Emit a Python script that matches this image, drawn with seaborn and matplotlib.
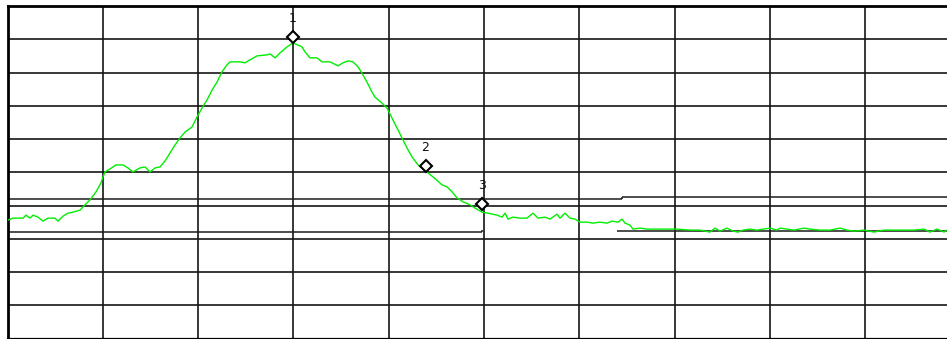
import matplotlib
matplotlib.use("Agg")
import matplotlib.pyplot as plt
import seaborn as sns
import pandas as pd

# ---- data (frequency in MHz, level in dBm) ----
freq = [0.05, 0.58, 1.63, 1.94, 2.36, 2.68, 3.20, 3.73, 4.25, 4.98, 5.30, 5.82, 6.35, 6.87, 7.61, 8.13,
        8.66, 9.29, 9.81, 10.02, 10.23, 10.76, 11.38, 12.12, 12.64, 13.17, 13.90, 14.43, 14.95, 15.48,
        16.00, 16.53, 17.05, 17.58, 18.10, 18.63, 19.36, 19.88, 20.41, 20.93, 21.46, 21.98, 22.51,
        23.03, 23.35, 24.40, 24.92, 25.45, 26.18, 27.23, 27.55, 28.07, 28.60, 29.33, 29.96, 30.90,
        31.22, 31.74, 32.48, 33.00, 33.84, 34.68, 35.20, 35.73, 36.25, 36.78, 37.20, 37.72, 38.25,
        38.56, 39.30, 39.82, 40.35, 40.87, 41.40, 41.92, 42.45, 43.08, 43.60, 44.65, 45.60, 46.12,
        46.65, 47.17, 47.80, 48.53, 49.06, 49.79, 50.42, 51.37, 51.89, 52.21, 52.52, 53.04, 53.78,
        54.51, 55.14, 55.67, 56.40, 56.93, 57.66, 57.97, 58.50, 59.02, 59.55, 60.07, 60.81, 61.44,
        62.17, 62.91, 63.43, 64.06, 64.48, 64.80, 65.32, 65.63, 66.37, 67.10, 68.15, 69.20, 70.25,
        71.61, 72.66, 73.71, 74.24, 74.76, 75.50, 76.13, 76.65, 77.18, 77.91, 78.65, 79.28, 80.01,
        80.75, 81.06, 81.80, 82.53, 83.58, 84.21, 85.26, 86.31, 87.36, 88.09, 88.82, 89.87, 90.92,
        91.97, 93.02, 94.07, 95.12, 96.17, 96.80, 97.53, 98.27, 98.58]
level = [-64.4, -63.8, -63.8, -62.9, -63.8, -62.9, -63.5, -64.7, -63.8, -63.8, -64.7, -63.2, -62.3,
         -62.0, -61.4, -59.8, -58.3, -55.9, -53.2, -51.4, -49.9, -49.0, -47.8, -47.8, -48.7, -49.9,
         -48.7, -48.4, -49.9, -48.7, -48.4, -46.6, -44.2, -41.8, -39.7, -37.9, -36.4, -33.4, -30.7,
         -28.3, -25.3, -22.9, -19.8, -17.7, -16.8, -16.8, -17.1, -16.2, -15.0, -14.7, -14.4, -15.6,
         -14.1, -12.3, -11.1, -12.3, -13.8, -15.6, -15.6, -16.8, -16.8, -18.0, -17.1, -16.5, -16.8,
         -18.3, -20.2, -22.9, -25.9, -27.4, -29.2, -30.7, -33.7, -36.7, -39.7, -42.7, -45.4, -47.8,
         -49.0, -51.4, -53.8, -54.4, -55.9, -57.7, -58.9, -59.8, -60.8, -62.0, -62.3, -62.9, -63.5,
         -62.3, -64.1, -63.5, -63.8, -63.8, -62.3, -63.8, -63.5, -64.1, -62.6, -63.8, -62.3, -63.8,
         -64.1, -65.0, -65.0, -65.3, -65.0, -65.3, -64.7, -65.0, -64.1, -65.3, -65.9, -67.1, -66.8,
         -67.1, -67.1, -67.1, -67.1, -67.4, -67.4, -68.0, -66.8, -67.7, -66.8, -67.7, -68.0, -67.4,
         -67.1, -67.4, -67.1, -66.8, -67.4, -66.8, -67.1, -67.4, -66.8, -67.1, -67.4, -67.4, -66.8,
         -67.4, -67.7, -67.4, -68.0, -67.4, -67.4, -67.4, -67.4, -67.1, -68.0, -67.1, -68.0, -67.4]

marker_labels = ["1", "2", "3"]
marker_freq = [29.96, 43.86, 49.79]
marker_level = [-9.3, -48.1, -59.5]

# limit / display lines: (start MHz, stop MHz, level dBm)
line_a_start = [0.0, 64.48]
line_a_stop = [64.48, 98.6]
line_a_level = [-58.0, -57.4]
line_b_start = [0.0, 64.0]
line_b_stop = [49.79, 98.6]
line_b_level = [-68.0, -67.7]

x_ticks = [0, 10, 20, 30, 40, 50, 60, 70, 80, 90]
y_ticks = [-100, -90, -80, -70, -60, -50, -40, -30, -20, -10, 0]

# ---- figure ----
sns.set_style("white")
plt.rcParams['font.family'] = ['DejaVu Sans']

fig = plt.figure(figsize=(9.47, 3.39), dpi=100)
ax = fig.add_axes([7.5 / 947, 0.5 / 339, 939.5 / 947, 332.5 / 339])
ax.set_xlim(0, 98.58)
ax.set_ylim(-100, 0)

ax.set_xticks(x_ticks)
ax.set_yticks(y_ticks)
ax.grid(True, color="#151515", linewidth=1.2, zorder=0)
ax.tick_params(left=False, bottom=False, labelleft=False, labelbottom=False)

for side in ["left", "top", "bottom"]:
    ax.spines[side].set_visible(True)
    ax.spines[side].set_color("#000000")
ax.spines["left"].set_linewidth(2.0)
ax.spines["top"].set_linewidth(2.0)
ax.spines["bottom"].set_linewidth(1.6)
ax.spines["right"].set_visible(False)

# limit lines
ax.hlines(line_a_level, line_a_start, line_a_stop, colors="#1c1c1c", linewidth=1.1, zorder=2)
ax.vlines([line_a_start[1]], [line_a_level[0]], [line_a_level[1]], colors="#1c1c1c", linewidth=1.1, zorder=2)
ax.hlines(line_b_level, line_b_start, line_b_stop, colors="#1c1c1c", linewidth=1.1, zorder=2)
ax.vlines([line_b_stop[0]], [line_b_level[0]], [line_b_level[0] + 0.6], colors="#1c1c1c", linewidth=1.1, zorder=2)

# trace
df = pd.DataFrame({"freq": freq, "level": level})
sns.lineplot(data=df, x="freq", y="level", ax=ax, color="#00ee00", linewidth=1.0,
             sort=False, estimator=None, zorder=3, legend=False)
ax.set_xlabel("")
ax.set_ylabel("")

# markers
mdf = pd.DataFrame({"freq": marker_freq, "level": marker_level})
ax.plot(mdf["freq"], mdf["level"], linestyle="none", marker="D", markersize=6.2,
        markerfacecolor="white", markeredgecolor="black", markeredgewidth=1.5, zorder=5)
for lab, fx, ly in zip(marker_labels, marker_freq, marker_level):
    ax.annotate(lab, (fx, ly), xytext=(0, 13.5), textcoords="offset points",
                ha="center", va="center", fontsize=9, color="#111111", zorder=6)

fig.savefig("out.png", dpi=100)
